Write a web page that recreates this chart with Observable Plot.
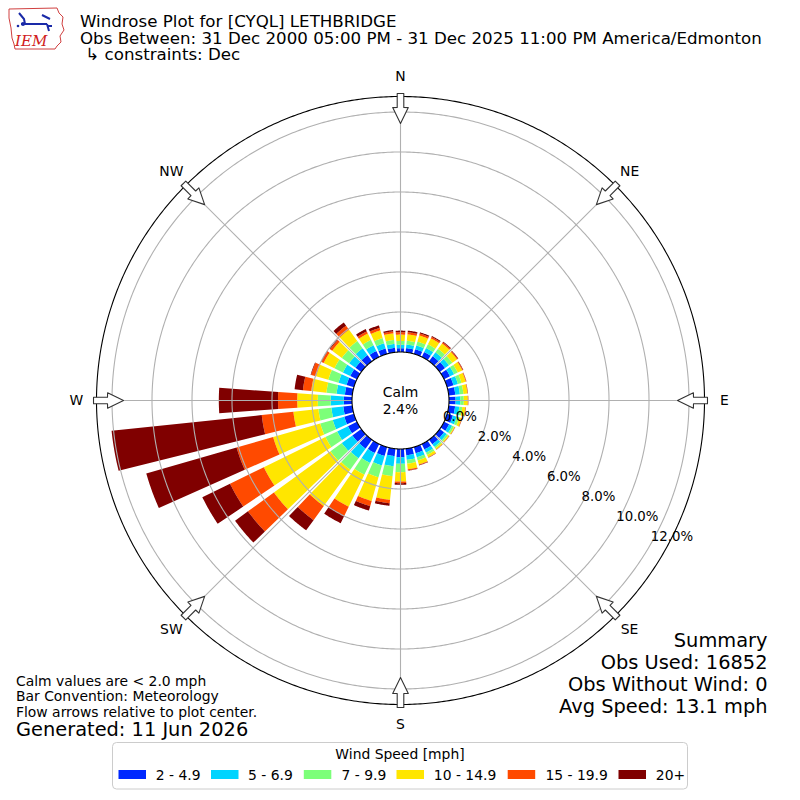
<!DOCTYPE html>
<html><head><meta charset="utf-8">
<script src="https://cdn.jsdelivr.net/npm/d3@7"></script>
<script src="https://cdn.jsdelivr.net/npm/@observablehq/plot@0.6"></script>
<style>
body{margin:0;background:#fff;}
#wrap{position:relative;width:800px;height:800px;overflow:hidden;}
</style></head><body><div id="wrap"></div>
<script>
// ---------------- data ----------------
const directions = [0,10,20,30,40,50,60,70,80,90,100,110,120,130,140,150,160,170,180,190,200,210,220,230,240,250,260,270,280,290,300,310,320,330,340,350];
const speedBins = ["2 - 4.9","5 - 6.9","7 - 9.9","10 - 14.9","15 - 19.9","20+"];
const binColors = ["#0028ff","#00d4ff","#7cff79","#ffe600","#ff4a00","#800000"];
// percent of observations per direction, one array per speed bin
const pct2to5   = [0.19,0.21,0.24,0.27,0.31,0.33,0.33,0.33,0.33,0.33,0.32,0.30,0.28,0.27,0.28,0.30,0.32,0.33,0.41,0.37,0.46,0.50,0.55,0.55,0.50,0.50,0.45,0.41,0.37,0.38,0.37,0.36,0.38,0.33,0.28,0.22];
const pct5to7   = [0.17,0.18,0.20,0.22,0.24,0.24,0.23,0.23,0.23,0.24,0.21,0.20,0.17,0.16,0.16,0.18,0.21,0.23,0.33,0.51,0.49,0.55,0.60,0.65,0.60,0.60,0.60,0.66,0.42,0.42,0.41,0.39,0.42,0.32,0.27,0.20];
const pct7to10  = [0.19,0.19,0.20,0.21,0.22,0.21,0.20,0.19,0.18,0.17,0.15,0.13,0.10,0.09,0.09,0.12,0.16,0.19,0.42,0.50,0.62,0.65,0.70,0.70,0.65,0.65,0.65,0.64,0.51,0.53,0.47,0.45,0.45,0.30,0.27,0.20];
const pct10to15 = [0.32,0.32,0.32,0.33,0.33,0.29,0.25,0.22,0.20,0.20,0.16,0.13,0.05,0.06,0.07,0.13,0.21,0.28,0.47,1.19,1.23,1.78,2.25,3.50,3.43,2.45,1.26,1.03,0.76,0.64,0.60,0.60,0.70,0.35,0.40,0.33];
const pct15to20 = [0.12,0.11,0.10,0.08,0.07,0.05,0.04,0.03,0.02,0.02,0.02,0.02,0.01,0.01,0.01,0.02,0.03,0.05,0.08,0.17,0.27,0.50,0.87,1.60,1.88,1.90,1.59,0.96,0.42,0.25,0.12,0.13,0.25,0.12,0.13,0.10];
const pct20plus = [0.08,0.08,0.06,0.05,0.04,0.03,0.02,0.01,0.01,0.01,0.01,0.01,0.01,0.01,0.01,0.01,0.02,0.02,0.08,0.13,0.23,0.42,0.63,0.80,1.54,4.70,7.55,2.96,0.42,0.03,0.03,0.04,0.20,0.13,0.13,0.07];
const calmPct = 2.4;
const ringTicks = [0,2,4,6,8,10,12];
const compassLabels = ["N","NE","E","SE","S","SW","W","NW"];
const compassAngles = [0,45,90,135,180,225,270,315];
const titleLines = ["Windrose Plot for [CYQL] LETHBRIDGE","Obs Between: 31 Dec 2000 05:00 PM - 31 Dec 2025 11:00 PM America/Edmonton"," \u21b3 constraints: Dec"];
const noteLines = ["Calm values are < 2.0 mph","Bar Convention: Meteorology","Flow arrows relative to plot center."];
const generatedText = "Generated: 11 Jun 2026";
const summaryLines = ["Summary","Obs Used: 16852","Obs Without Wind: 0","Avg Speed: 13.1 mph"];
const legendTitle = "Wind Speed [mph]";

const series = [pct2to5,pct5to7,pct7to10,pct10to15,pct15to20,pct20plus];

// ---------------- geometry helpers (polar via azimuthal projection) ----------------
const hole = 2.425;      // calm circle radius, in percent units
const rOuter = 12.775;   // axis limit in percent
const lat = p => 90 - (hole + p);
const lon = theta => 180 - theta;
const halfWidth = 4;     // bar half opening in degrees

function fixWinding(coords){
  let g = {type:"Polygon", coordinates:[coords]};
  if (d3.geoArea(g) > 2*Math.PI) g = {type:"Polygon", coordinates:[coords.slice().reverse()]};
  return g;
}
function wedge(dir, p0, p1){
  const n = 16, c = [];
  for (let k=0;k<=n;k++) c.push([lon(dir - halfWidth + 2*halfWidth*k/n), lat(p1)]);
  for (let k=n;k>=0;k--) c.push([lon(dir - halfWidth + 2*halfWidth*k/n), lat(p0)]);
  c.push(c[0]);
  return fixWinding(c);
}
const rows = [];
directions.forEach((dir,i) => {
  let base = 0;
  series.forEach((s,j) => {
    const v = s[i];
    if (v > 0) rows.push({dir, bin: speedBins[j], geom: wedge(dir, base, base+v)});
    base += v;
  });
});

// flow arrows (decoration) in colatitude units
function arrow(dir){
  const outer = 15.35, neck = 14.65, tip = 13.85, sh = 0.165, hh = 0.39;
  const off = (hw, d) => hw / d * 180 / Math.PI;
  const pts = [[outer,-off(sh,outer)],[neck,-off(sh,neck)],[neck,-off(hh,neck)],[tip,0],[neck,off(hh,neck)],[neck,off(sh,neck)],[outer,off(sh,outer)]];
  const c = pts.map(([d,o]) => [lon(dir)+o, 90-d]);
  c.push(c[0]);
  return fixWinding(c);
}
const circle = r => d3.geoCircle().center([0,90]).radius(r).precision(0.5)();

const chart = Plot.plot({
  width: 800, height: 800, margin: 0,
  style: {fontFamily: "DejaVu Sans", background: "white", color: "black"},
  projection: {type: "azimuthal-equidistant", rotate: [0,-90], domain: circle(hole + rOuter), inset: 96, clip: false},
  color: {domain: speedBins, range: binColors},
  marks: [
    Plot.geo(rows, {geometry: d => d.geom, fill: "bin"}),
    Plot.geo(ringTicks.filter(t => t > 0), {geometry: t => circle(hole + t), fill: "none", stroke: "#b0b0b0", strokeWidth: 1.1}),
    Plot.link(compassAngles, {x1: a => lon(a), y1: () => lat(0), x2: a => lon(a), y2: () => lat(rOuter), stroke: "#b0b0b0", strokeWidth: 1.1}),
    Plot.geo([circle(hole)], {fill: "white", stroke: "black", strokeWidth: 1.1}),
    Plot.geo([circle(hole + rOuter)], {fill: "none", stroke: "black", strokeWidth: 1.1}),
    Plot.geo(compassAngles, {geometry: a => arrow(a), fill: "white", stroke: "#333", strokeWidth: 1.1}),
    Plot.text(compassAngles, {x: a => lon(a), y: () => 90 - 16.2, text: (a,i) => compassLabels[i], fontSize: 13.9, fill: "black"}),
    Plot.text(ringTicks, {x: () => lon(120), y: t => lat(t), text: t => t.toFixed(1) + "%", textAnchor: "start", dx: 0.5, dy: -7.6, fontSize: 13.3, fill: "black"}),
    Plot.text([calmPct], {x: () => 0, y: () => 90, text: c => "Calm\n" + c.toFixed(1) + "%", fontSize: 13.9, lineHeight: 1.22, fill: "black"})
  ]
});
document.getElementById("wrap").appendChild(chart);

// ---------------- annotations ----------------
const svg = d3.select(chart);
const font = "DejaVu Sans";
function txt(x, y, s, size, anchor="start"){
  svg.append("text").attr("x", x).attr("y", y).attr("font-family", font).attr("font-size", size)
     .attr("text-anchor", anchor).attr("fill", "black").style("white-space","pre").text(s);
}
[26.5, 43.5, 60].forEach((y,i) => txt(80, y, titleLines[i], 16.67));
[685.7, 701.2, 716.7].forEach((y,i) => txt(16, y, noteLines[i], 13.9));
txt(16, 736, generatedText, 19.4);
[647, 669, 691, 713].forEach((y,i) => txt(767.5, y, summaryLines[i], 19.4, "end"));

// legend
const color = chart.scale("color");
svg.append("rect").attr("x",112.5).attr("y",742.5).attr("width",575).attr("height",46.5).attr("rx",4)
   .attr("fill","white").attr("stroke","#cccccc");
txt(400, 758.5, legendTitle, 13.9, "middle");
const swatchX = [118.5, 211, 303.8, 396.5, 507.7, 618.5];
const labelX = [155.8, 248, 341.5, 433.8, 545.4, 655.8];
color.domain.forEach((b,i) => {
  svg.append("rect").attr("x", swatchX[i]).attr("y", 770).attr("width", 27.5).attr("height", 9).attr("fill", color.apply(b));
  txt(labelX[i], 779.5, b, 13.9);
});

// logo (approximate IEM badge)
const logo = svg.append("g");
logo.append("path").attr("d","M9,9 L57,8 L59,13 L63,17 L62,24 L64,30 L60,36 L61,42 L57,46 L55,49 L15,49 L14,44 L12,38 L11,28 L9,18 Z")
    .attr("fill","white").attr("stroke","#d04040").attr("stroke-width",1);
logo.append("path").attr("d","M21,24 L47,24 M19,13 L24,19 L25,24 M42,15 L50,19 M47,24 L49,31 M47,26 L52,26")
    .attr("stroke","#1a2aa8").attr("stroke-width",2).attr("fill","none");
logo.append("circle").attr("cx",23).attr("cy",24).attr("r",2).attr("fill","#1a2aa8");
logo.append("circle").attr("cx",18).attr("cy",26).attr("r",1.3).attr("fill","#1a2aa8");
logo.append("text").attr("x",15).attr("y",46).attr("text-anchor","start").attr("font-family","DejaVu Serif").attr("font-style","italic")
    .attr("font-size",15).attr("fill","#d02020").text("IEM");
</script></body></html>
